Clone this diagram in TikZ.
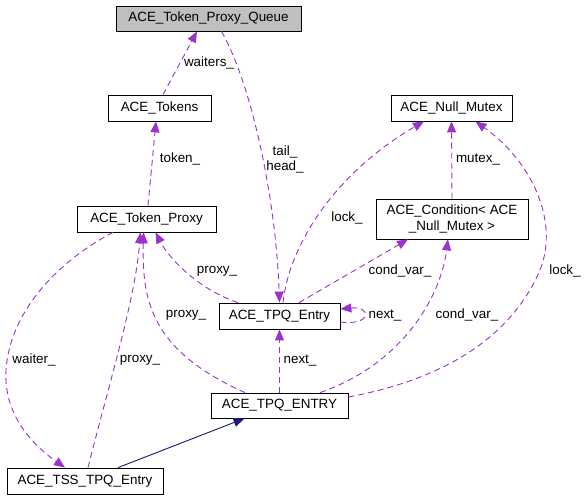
\documentclass[tikz,border=0pt]{standalone}
\usepackage{fontspec}
\setmainfont{Liberation Sans}
\usetikzlibrary{arrows.meta}
\definecolor{usecol}{HTML}{9A32CD}
\definecolor{inhcol}{HTML}{191970}
\definecolor{qfill}{HTML}{BFBFBF}
\begin{document}
\begin{tikzpicture}[x=1pt,y=-1pt,
  box/.style={draw=black, line width=0.8pt, fill=white, inner sep=0pt, font=\fontsize{13.4}{15.5}\selectfont, align=center},
  usage/.style={draw=usecol, line width=0.9pt, dash pattern=on 6pt off 4pt, -{Triangle[length=11pt,width=9pt,fill=usecol]}},
  hier/.style={draw=inhcol, line width=0.9pt, -{Triangle[length=11pt,width=9pt,fill=inhcol]}},
  lbl/.style={font=\fontsize{13.4}{15}\selectfont, inner sep=0pt, align=center}]
\useasboundingbox (0,0) rectangle (588,500);
\fill[white] (0,0) rectangle (588,500);

% nodes
\node[box, fill=qfill, minimum width=185pt, minimum height=25pt] (q) at (208.5,18.5) {ACE\_Token\_Proxy\_Queue};
\node[box, minimum width=103pt, minimum height=26pt] (tok) at (159.5,108) {ACE\_Tokens};
\node[box, minimum width=139pt, minimum height=26pt] (tp) at (146.5,219) {ACE\_Token\_Proxy};
\node[box, minimum width=121pt, minimum height=26pt] (nm) at (451.5,108) {ACE\_Null\_Mutex};
\node[box, minimum width=152pt, minimum height=40pt] (cond) at (452,219) {ACE\_Condition< ACE\\\_Null\_Mutex >};
\node[box, minimum width=121pt, minimum height=26pt] (tpq) at (279.5,316) {ACE\_TPQ\_Entry};
\node[box, minimum width=137pt, minimum height=25pt] (tpqE) at (279.5,405.5) {ACE\_TPQ\_ENTRY};
\node[box, minimum width=156pt, minimum height=26pt] (tss) at (85,481) {ACE\_TSS\_TPQ\_Entry};

% edges
\draw[usage] ([xshift=3.5pt]tok.north) -- ([xshift=-11.5pt]q.south);
\draw[usage] ([xshift=1.5pt]tp.north) -- ([xshift=-3.5pt]tok.south);
\draw[usage] ([xshift=13pt]q.south) .. controls (252,85) and (276,200) .. (tpq.north);
\draw[usage] ([xshift=3.5pt]tpq.north) .. controls (290,240) and (340,170) .. ([xshift=-27.5pt]nm.south);
\draw[usage] (cond.north) -- (nm.south);
\draw[usage] ([xshift=19.5pt]tpq.north) -- ([xshift=-44pt]cond.south);
\draw[usage] ([xshift=-41.5pt]tpq.north) .. controls (200,290) and (170,260) .. ([xshift=9pt]tp.south);
\draw[usage] ([yshift=-6pt]tpq.east) .. controls (372,326) and (372,306) .. ([yshift=7pt]tpq.east);
\draw[usage] (tpqE.north) -- (tpq.south);
\draw[usage] ([xshift=-34.5pt]tpqE.north) .. controls (150,350) and (142,300) .. ([xshift=-3pt]tp.south);
\draw[usage] ([xshift=40.5pt]tpqE.north) .. controls (400,365) and (440,300) .. ([xshift=-4pt]cond.south);
\coordinate (lockmid) at (540,270);
\draw[usage] ([yshift=8.5pt]tpqE.east) .. controls (440,380) and (510,340) .. (lockmid)
  .. controls (560,220) and (530,160) .. ([xshift=24pt]nm.south);
\draw[usage] ([xshift=3pt]tss.north) .. controls (110,380) and (135,300) .. ([xshift=-6pt]tp.south);
\coordinate (waitmid) at (6,370);
\draw[usage] ([xshift=-33.5pt]tp.south) .. controls (60,260) and (10,310) .. (waitmid)
  .. controls (3,420) and (40,450) .. ([xshift=-20pt]tss.north);
\draw[hier] ([xshift=33pt]tss.north) -- ([xshift=-35pt]tpqE.south);

% labels
\node[lbl] (l1) at (209,63) {waiters\_};
\node[lbl] (l2) at (180,159) {token\_};
\node[lbl] (l3) at (285,159) {tail\_\\head\_};
\node[lbl] (l4) at (347,218) {lock\_};
\node[lbl] (l5) at (478,159) {mutex\_};
\node[lbl] (l6) at (400,271) {cond\_var\_};
\node[lbl] (l7) at (385,315) {next\_};
\node[lbl] (l8) at (467,315) {cond\_var\_};
\node[lbl] (l9) at (565,271) {lock\_};
\node[lbl] (l10) at (217,271) {proxy\_};
\node[lbl] (l11) at (186,315) {proxy\_};
\node[lbl] (l12) at (34,360) {waiter\_};
\node[lbl] (l13) at (140,360) {proxy\_};
\node[lbl] (l14) at (300,360) {next\_};
\end{tikzpicture}
\end{document}
